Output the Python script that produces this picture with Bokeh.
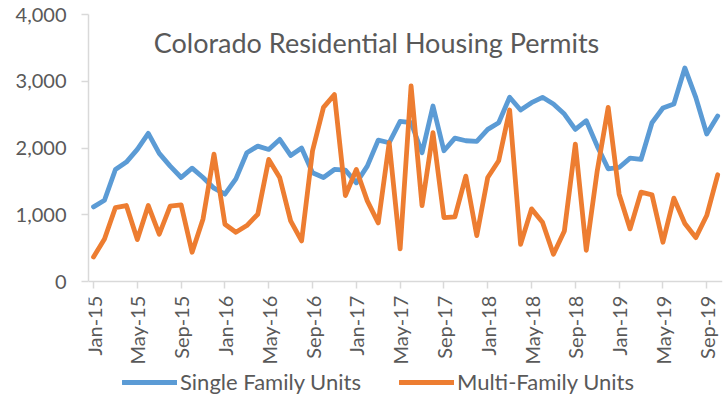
import math
from bokeh.plotting import figure
from bokeh.models import ColumnDataSource, FixedTicker, Legend, LegendItem, Label, Range1d
from bokeh.embed import file_html
from bokeh.resources import INLINE

years = ["15", "16", "17", "18", "19"]
mnames = ["Jan", "Feb", "Mar", "Apr", "May", "Jun", "Jul", "Aug", "Sep", "Oct", "Nov", "Dec"]
months = [f"{m}-{y}" for y in years for m in mnames][:58]  # Jan-15 .. Oct-19

single_family = [1120, 1220, 1680, 1790, 1980, 2220, 1920, 1730, 1560, 1700,
                 1560, 1400, 1310, 1540, 1930, 2030, 1980, 2130, 1890, 2000,
                 1630, 1560, 1680, 1670, 1480, 1730, 2120, 2080, 2400, 2380,
                 1930, 2630, 1960, 2150, 2110, 2100, 2280, 2380, 2760, 2570,
                 2680, 2760, 2660, 2510, 2280, 2410, 2030, 1690, 1710, 1850,
                 1830, 2380, 2600, 2660, 3200, 2760, 2210, 2480]
multi_family = [370, 640, 1110, 1140, 630, 1140, 710, 1130, 1150, 440,
                940, 1910, 860, 740, 840, 1010, 1830, 1560, 910, 610,
                1960, 2610, 2800, 1290, 1680, 1210, 880, 2080, 490, 2930,
                1140, 2230, 960, 970, 1580, 690, 1560, 1810, 2570, 560,
                1090, 890, 410, 760, 2060, 470, 1660, 2610, 1310, 790,
                1340, 1300, 590, 1250, 870, 660, 990, 1600]
y_ticks = [0, 1000, 2000, 3000, 4000]
title_text = "Colorado Residential Housing Permits"
series_names = ["Single Family Units", "Multi-Family Units"]

idx = list(range(len(months)))
src = ColumnDataSource(dict(x=idx, sf=single_family, mf=multi_family))

FONT = "Lato"
GREY = "#595959"

# frame extends below the value axis so the legend can sit inside it
p = figure(frame_width=634, frame_height=386, output_backend="svg", toolbar_location=None,
           x_range=Range1d(-0.46, 57.44), y_range=Range1d(-1779, 4000),
           min_border_left=88, min_border_right=4, min_border_top=14, min_border_bottom=0)
p.outline_line_color = None
p.grid.visible = False
p.background_fill_color = "white"
p.border_fill_color = "white"

r1 = p.line("x", "sf", source=src, line_color="#5B9BD5", line_width=4.8,
            line_join="round", line_cap="round")
r2 = p.line("x", "mf", source=src, line_color="#ED7D31", line_width=4.8,
            line_join="round", line_cap="round")

# axes
p.xaxis.fixed_location = 0
p.xaxis.ticker = FixedTicker(ticks=idx[::4])
p.xaxis.major_label_overrides = {i: months[i] for i in idx[::4]}
p.xaxis.major_label_orientation = math.pi / 2
p.yaxis.ticker = FixedTicker(ticks=y_ticks)
p.yaxis.bounds = (0, 4000)
p.yaxis.formatter.use_scientific = False
p.yaxis.major_label_overrides = {v: f"{v:,}" for v in y_ticks}
for ax in (p.xaxis, p.yaxis):
    ax.axis_line_color = "#d9d9d9"
    ax.axis_line_width = 1.5
    ax.major_tick_line_color = "#d9d9d9"
    ax.major_tick_line_width = 1.5
    ax.major_tick_out = 7
    ax.major_tick_in = 0
    ax.minor_tick_line_color = None
    ax.major_label_text_font = FONT
    ax.major_label_text_font_size = "20px"
    ax.major_label_text_color = GREY
p.xaxis.major_label_standoff = 7
p.yaxis.major_label_standoff = 15

title = Label(x=376 - 88, y=386 - 28, x_units="screen", y_units="screen",
              text=title_text, text_font=FONT, text_font_size="27px",
              text_color=GREY, text_align="center", text_baseline="middle")
p.add_layout(title)

legend = Legend(items=[LegendItem(label=series_names[0], renderers=[r1]),
                       LegendItem(label=series_names[1], renderers=[r2])],
                orientation="horizontal", location=(34, 5),
                label_text_font=FONT, label_text_font_size="22px",
                label_text_color=GREY, glyph_width=55, glyph_height=20,
                label_height=20, label_standoff=3, spacing=38, padding=0, margin=0,
                border_line_color=None, background_fill_alpha=0)
p.add_layout(legend)

open("out.html", "w").write(file_html(p, INLINE))
